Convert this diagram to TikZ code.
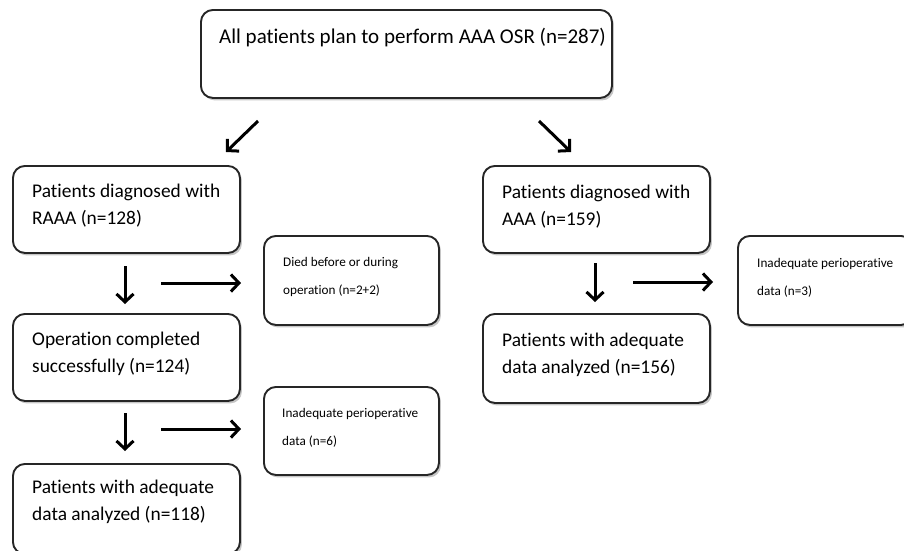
\documentclass[tikz,border=0pt]{standalone}
\usepackage{fontspec}
\setmainfont{Carlito}[Ligatures={NoCommon}]
\usetikzlibrary{arrows.meta,shadows}
\tikzset{
  box/.style={draw=black!85, line width=1.9pt, rounded corners=12pt, fill=white, anchor=north west,
    inner sep=0pt, drop shadow={opacity=0.45, shadow xshift=2pt, shadow yshift=-2.5pt}},
  bigtxt/.style={anchor=base west, inner sep=0pt, font=\fontsize{19.4}{27.5}\selectfont},
  toptxt/.style={anchor=base west, inner sep=0pt, font=\fontsize{21}{27.5}\selectfont},
  smalltxt/.style={anchor=base west, inner sep=0pt, font=\fontsize{13.2}{28}\selectfont},
  arr/.style={line width=3pt, -{Straight Barb[length=8pt,width=17pt,line width=3pt]}}
}
\begin{document}
\begin{tikzpicture}[x=1pt,y=-1pt]
\useasboundingbox (0,0) rectangle (904,550);
% boxes
\node[box, minimum width=411pt, minimum height=88pt] (top) at (200,9) {};
\node[box, minimum width=227pt, minimum height=87pt] (raaa) at (12,165) {};
\node[box, minimum width=227pt, minimum height=87pt] (oper) at (12,313) {};
\node[box, minimum width=227pt, minimum height=90pt] (adeqL) at (12,463) {};
\node[box, minimum width=175pt, minimum height=89pt] (died) at (263,235) {};
\node[box, minimum width=175pt, minimum height=88pt] (inadL) at (263,386) {};
\node[box, minimum width=227pt, minimum height=87pt] (aaa) at (482,165) {};
\node[box, minimum width=227pt, minimum height=89pt] (adeqR) at (482,313) {};
\node[box, minimum width=175pt, minimum height=89pt] (inadR) at (737,235) {};
% texts
\node[toptxt] (ttop) at (219,43) {All patients plan to perform AAA OSR (n=287)};
\node[bigtxt] (traaa) at (32,197) {\parbox[t]{210pt}{Patients diagnosed with\\RAAA (n=128)}};
\node[bigtxt] (toper) at (32,345) {\parbox[t]{210pt}{Operation completed\\successfully (n=124)}};
\node[bigtxt] (tadeqL) at (32,493) {\parbox[t]{210pt}{Patients with adequate\\data analyzed (n=118)}};
\node[bigtxt] (taaa) at (502,198) {\parbox[t]{210pt}{Patients diagnosed with\\AAA (n=159)}};
\node[bigtxt] (tadeqR) at (502,346) {\parbox[t]{210pt}{Patients with adequate\\data analyzed (n=156)}};
\node[smalltxt] (tdied) at (283,266) {\parbox[t]{160pt}{Died before or during\\operation (n=2+2)}};
\node[smalltxt] (tinadL) at (282,417) {\parbox[t]{160pt}{Inadequate perioperative\\data (n=6)}};
\node[smalltxt] (tinadR) at (757,267) {\parbox[t]{160pt}{Inadequate perioperative\\data (n=3)}};
% arrow end points
\coordinate (d1s) at (258,121); \coordinate (d1e) at (226,152);
\coordinate (d2s) at (539,121); \coordinate (d2e) at (571,152);
\coordinate (v1s) at (125,266); \coordinate (v1e) at (125,304);
\coordinate (h1s) at (161,283); \coordinate (h1e) at (241,283);
\coordinate (v2s) at (125,413); \coordinate (v2e) at (125,451);
\coordinate (h2s) at (161,429); \coordinate (h2e) at (241,429);
\coordinate (v3s) at (595,263); \coordinate (v3e) at (595,302);
\coordinate (h3s) at (633,282); \coordinate (h3e) at (713,282);
\foreach \a in {d1,d2,v1,h1,v2,h2,v3,h3} {
  \draw[arr] (\a s) -- (\a e);
}
\end{tikzpicture}
\end{document}
